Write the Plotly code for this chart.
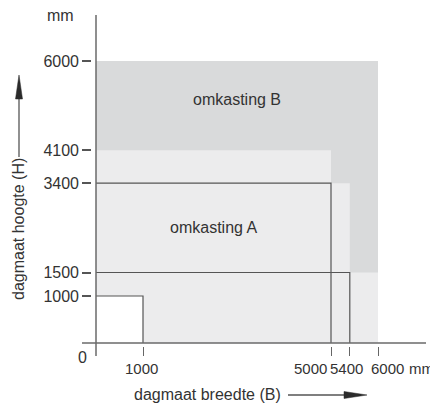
import plotly.graph_objects as go

# ---- data (mm) ----
x_ticks = [1000, 5000, 5400, 6000]
y_ticks = [1000, 1500, 3400, 4100, 6000]
b_width, b_height = 6000, 6000            # omkasting B envelope
a_step_w = [5000, 5400, 6000]              # omkasting A stepped envelope
a_step_h = [4100, 3400, 1500]
min_w, min_h = 1000, 1000                  # minimum opening
box_w = [1000, 5000, 5400]                 # outlined ranges
box_h = [1000, 3400, 1500]

FONT = "Liberation Sans, Arial, sans-serif"
TXT = "#333333"
DARK = "#d9dadb"
LIGHT = "#ececed"
LINE = "#555555"
FS = 16

# plot area geometry (page pixels); the page body has an 8px margin
OFF = 8
PL, PT, PW, PH = 82, 15, 344, 341
FIG_W, FIG_H = 438 - OFF, 407 - OFF


def px(x):  # page pixel -> paper x
    return (x - PL) / PW


def py(y):  # page pixel -> paper y
    return (PT + PH - y) / PH


fig = go.Figure()

# omkasting B region
bx = [0, 0, b_width, b_width, min_w, min_w, 0]
by = [min_h, b_height, b_height, 0, 0, min_h, min_h]
fig.add_trace(go.Scatter(x=bx, y=by, fill="toself", fillcolor=DARK, mode="lines",
                         line=dict(width=0), hoverinfo="skip", showlegend=False))

# omkasting A stepped region
ax_, ay_ = [0, 0], [min_h, a_step_h[0]]
for i, w in enumerate(a_step_w):
    ax_.append(w); ay_.append(a_step_h[i])
    ax_.append(w); ay_.append(a_step_h[i + 1] if i + 1 < len(a_step_h) else 0)
ax_ += [min_w, min_w, 0]
ay_ += [0, min_h, min_h]
fig.add_trace(go.Scatter(x=ax_, y=ay_, fill="toself", fillcolor=LIGHT, mode="lines",
                         line=dict(width=0), hoverinfo="skip", showlegend=False))

# outlined ranges
for w, h in zip(box_w, box_h):
    fig.add_trace(go.Scatter(x=[0, w, w], y=[h, h, 0], mode="lines",
                             line=dict(color=LINE, width=1.2),
                             hoverinfo="skip", showlegend=False))

font = dict(family=FONT, size=FS, color=TXT)
font_s = dict(family=FONT, size=15, color=TXT)

# region labels
fig.add_annotation(x=b_width / 2, y=(a_step_h[0] + b_height) / 2, text="omkasting B",
                   showarrow=False, font=font, yshift=6)
fig.add_annotation(x=a_step_w[0] / 2, y=(box_h[2] + box_h[1]) / 2, text="omkasting A",
                   showarrow=False, font=font)

# axis lines
fig.add_shape(type="line", xref="paper", yref="y", x0=0, x1=1, y0=0, y1=0,
              line=dict(color="#6a6a6a", width=1.5), layer="above")
fig.add_shape(type="line", xref="x", yref="paper", x0=0, x1=0, y0=0, y1=1,
              line=dict(color="#6a6a6a", width=1.5), layer="above")

# x tick labels (placed at tick values, nudged to avoid overlap)
x_anchor = ["center", "right", "center", "left"]
x_shift = [-2, -2, -3, -9]
for v, anc, sh in zip(x_ticks, x_anchor, x_shift):
    fig.add_annotation(x=v, y=0, text=str(v), showarrow=False, xanchor=anc,
                       yanchor="middle", xshift=sh, yshift=-25, font=font_s)
fig.add_annotation(x=0, y=0, text="0", showarrow=False, xanchor="center", yanchor="middle",
                   xshift=-14, yshift=-14, font=font)

# units
fig.add_annotation(xref="paper", yref="paper", x=px(436), y=py(368), text="mm",
                   xanchor="right", yanchor="middle", showarrow=False, font=font_s)
fig.add_annotation(xref="paper", yref="paper", x=px(60), y=py(15), text="mm",
                   xanchor="center", yanchor="middle", showarrow=False, font=font)

# axis titles
fig.add_annotation(xref="paper", yref="paper", x=px(18), y=py(229), text="dagmaat hoogte (H)",
                   xanchor="center", yanchor="middle", textangle=-90, showarrow=False, font=font)
fig.add_annotation(xref="paper", yref="paper", x=px(207), y=py(395), text="dagmaat breedte (B)",
                   xanchor="center", yanchor="middle", showarrow=False, font=font)

# title arrows (decoration)
ARC = "#2b2b2b"
fig.add_shape(type="line", xref="paper", yref="paper", x0=px(19), x1=px(19),
              y0=py(157), y1=py(96), line=dict(color="#555", width=1.3))
fig.add_shape(type="path", xref="paper", yref="paper",
              path=f"M {px(19)} {py(75)} L {px(15.5)} {py(99)} L {px(22.5)} {py(99)} Z",
              fillcolor=ARC, line=dict(color=ARC, width=0.5))
fig.add_shape(type="line", xref="paper", yref="paper", x0=px(288), x1=px(350),
              y0=py(395), y1=py(395), line=dict(color="#555", width=1.3))
fig.add_shape(type="path", xref="paper", yref="paper",
              path=f"M {px(367)} {py(395)} L {px(344)} {py(391.5)} L {px(344)} {py(398.5)} Z",
              fillcolor=ARC, line=dict(color=ARC, width=0.5))

xr0 = -(96 - PL) / 0.047
fig.update_xaxes(range=[xr0, xr0 + PW / 0.047], tickvals=x_ticks, showticklabels=False,
                 ticks="inside", ticklen=9, tickwidth=1.2, tickcolor="#666",
                 showgrid=False, zeroline=False, showline=False, fixedrange=True)
yr0 = -(PT + PH - 343) / 0.047
fig.update_yaxes(range=[yr0, yr0 + PH / 0.047], tickvals=y_ticks,
                 ticktext=[str(v) for v in y_ticks],
                 ticks="inside", ticklen=9, tickwidth=1.5, tickcolor="#555",
                 ticklabelstandoff=2, tickfont=font,
                 showgrid=False, zeroline=False, showline=False, fixedrange=True)

fig.update_layout(width=FIG_W, height=FIG_H,
                  margin=dict(l=PL - OFF, r=FIG_W - (PL - OFF) - PW, t=PT - OFF,
                              b=FIG_H - (PT - OFF) - PH),
                  plot_bgcolor="white", paper_bgcolor="white", showlegend=False)

fig.write_html("out.html")
